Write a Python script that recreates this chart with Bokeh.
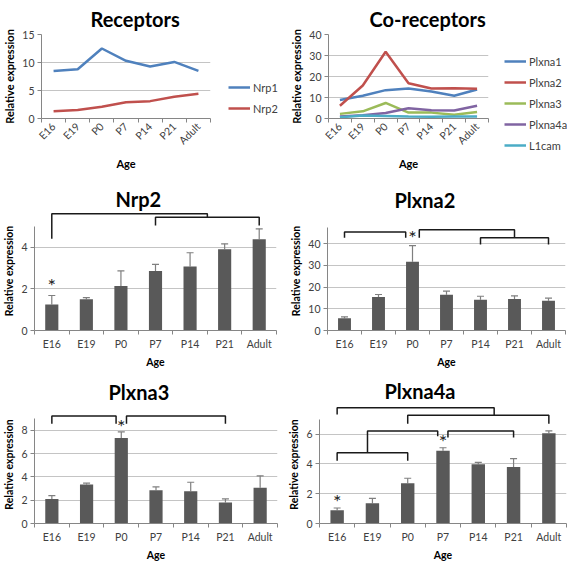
import math
from bokeh.plotting import figure
from bokeh.layouts import column, row
from bokeh.models import (FixedTicker, Legend, LegendItem, Range1d, ColumnDataSource,
                          Whisker, TeeHead)
from bokeh.embed import file_html
from bokeh.resources import INLINE
from bokeh.core.properties import value

FONT = "Lato"

# ---------------- data ----------------
ages = ["E16", "E19", "P0", "P7", "P14", "P21", "Adult"]

# line charts
receptor_names = ["Nrp1", "Nrp2"]
nrp1_line = [8.5, 8.8, 12.5, 10.3, 9.3, 10.1, 8.5]
nrp2_line = [1.3, 1.5, 2.1, 2.9, 3.1, 3.9, 4.4]

coreceptor_names = ["Plxna1", "Plxna2", "Plxna3", "Plxna4a", "L1cam"]
plxna1_line = [8.8, 10.8, 13.5, 14.3, 12.9, 10.8, 13.8]
plxna2_line = [6.1, 15.7, 31.8, 16.8, 14.3, 14.4, 14.2]
plxna3_line = [2.2, 3.4, 7.4, 2.8, 2.8, 1.8, 3.1]
plxna4a_line = [1.0, 1.5, 2.6, 4.9, 3.9, 3.8, 6.1]
l1cam_line = [0.6, 1.4, 1.2, 0.9, 0.8, 1.0, 1.0]

# bar charts (mean and upper error)
nrp2_mean = [1.25, 1.50, 2.14, 2.86, 3.07, 3.90, 4.38]
nrp2_err = [0.43, 0.08, 0.72, 0.31, 0.66, 0.26, 0.50]
plxna2_mean = [5.7, 15.4, 31.7, 16.5, 14.2, 14.5, 13.7]
plxna2_err = [0.6, 1.2, 7.5, 1.7, 1.6, 1.5, 1.2]
plxna3_mean = [2.11, 3.34, 7.34, 2.86, 2.77, 1.80, 3.06]
plxna3_err = [0.29, 0.12, 0.52, 0.28, 0.77, 0.31, 1.03]
plxna4a_mean = [0.89, 1.36, 2.71, 4.89, 3.98, 3.80, 6.07]
plxna4a_err = [0.15, 0.33, 0.33, 0.20, 0.13, 0.56, 0.15]

# significance brackets: (category positions, values)
nrp2_brackets = [
    ([0, 0, 4.5, 4.5], [4.4, 5.6, 5.6, 5.44]),
    ([3, 3, 6, 6], [5.04, 5.44, 5.44, 5.04]),
]
plxna2_brackets = [
    ([0, 0, 1.8, 1.8], [42.8, 45.5, 45.5, 42.8]),
    ([2.2, 2.2, 5, 5], [42.8, 46.5, 46.5, 42.8]),
    ([4, 4, 6, 6], [39.7, 42.8, 42.8, 39.7]),
]
plxna3_brackets = [
    ([0, 0, 1.85, 1.85], [8.57, 9.22, 9.22, 8.57]),
    ([2.15, 2.15, 5, 5], [8.57, 9.22, 9.22, 8.57]),
]
plxna4a_brackets = [
    ([0, 0, 4.45, 4.45], [7.33, 7.78, 7.78, 7.27]),
    ([2, 2, 6, 6], [6.71, 7.27, 7.27, 6.71]),
    ([0.86, 0.86, 2.85, 2.85], [4.75, 6.22, 6.22, 5.87]),
    ([0, 0, 2, 2], [4.22, 4.75, 4.75, 4.22]),
    ([3.14, 3.14, 5, 5], [5.78, 6.22, 6.22, 5.78]),
]

# asterisks: (category position, value)
nrp2_stars = ([0], [2.16])
plxna2_stars = ([2], [43.1])
plxna3_stars = ([2], [8.34])
plxna4a_stars = ([0, 3], [1.53, 5.55])

# ---------------- styling helpers ----------------
AXIS_COL = "#868686"
GRID_COL = "#c4c4c4"
TEXT_COL = "#404040"
LINE_COLORS = ["#4F81BD", "#C0504D", "#9BBB59", "#8064A2", "#4BACC6"]
xpos = list(range(len(ages)))
minor = [i - 0.5 for i in range(len(ages) + 1)]


def base_fig(title, w, h, bl, br, bt, bb, yend, yticks, toff, tstand, lab_size):
    p = figure(width=w, height=h, x_range=Range1d(-0.5, 6.5), y_range=Range1d(0, yend),
               output_backend="svg", toolbar_location=None,
               min_border_left=bl, min_border_right=br, min_border_top=bt,
               min_border_bottom=bb, outline_line_color=None)
    p.title.text = title
    p.title.align = "left"
    p.title.text_font = FONT
    p.title.text_font_style = "bold"
    p.title.text_font_size = "20px"
    p.title.text_color = "black"
    p.title.standoff = tstand
    p.title.offset = toff
    p.xaxis.ticker = FixedTicker(ticks=xpos, minor_ticks=minor)
    p.xaxis.major_label_overrides = {i: a for i, a in enumerate(ages)}
    p.xaxis.major_tick_out = 0
    p.xaxis.major_tick_in = 0
    p.xaxis.minor_tick_out = 4
    p.xaxis.minor_tick_in = 0
    p.yaxis.ticker = FixedTicker(ticks=yticks, minor_ticks=[])
    p.yaxis.major_tick_out = 4
    p.yaxis.major_tick_in = 0
    p.yaxis.minor_tick_out = 0
    p.yaxis.minor_tick_in = 0
    for ax in (p.xaxis, p.yaxis):
        ax.axis_line_color = AXIS_COL
        ax.major_tick_line_color = AXIS_COL
        ax.minor_tick_line_color = AXIS_COL
        ax.major_label_text_font = FONT
        ax.major_label_text_font_size = "10.5px"
        ax.major_label_text_color = TEXT_COL
        ax.major_label_standoff = 3
        ax.axis_label_text_font = FONT
        ax.axis_label_text_font_style = "bold"
        ax.axis_label_text_font_size = lab_size
        ax.axis_label_text_color = "black"
        ax.axis_label_standoff = 3
    p.xaxis.axis_label = "Age"
    p.yaxis.axis_label = "Relative expression"
    p.xgrid.visible = False
    p.ygrid.grid_line_color = GRID_COL
    return p


def line_chart(title, series, colors, w, h, bl, br, bt, bb, yend, yticks, toff, tstand):
    p = base_fig(title, w, h, bl, br, bt, bb, yend, yticks, toff, tstand, "11px")
    p.xaxis.major_label_orientation = math.pi / 4
    p.xaxis.major_label_standoff = 2
    for s, c in zip(series, colors):
        p.line(xpos, s, line_color=c, line_width=2.5)
    return p


def legend_fig(series, names, colors, w, h, loc):
    # separate strip that holds the legend beside the chart; the series are drawn
    # outside of its (empty) view so that only the legend itself shows
    q = figure(width=w, height=h, x_range=Range1d(100, 101), y_range=Range1d(100, 101),
               output_backend="svg", toolbar_location=None, min_border=0,
               x_axis_location=None, y_axis_location=None, outline_line_color=None)
    q.grid.visible = False
    items = []
    for s, n, c in zip(series, names, colors):
        r = q.line(xpos, s, line_color=c, line_width=2.5)
        items.append(LegendItem(label=n, renderers=[r]))
    leg = Legend(items=items, location=loc, orientation="vertical")
    leg.label_text_font = FONT
    leg.label_text_font_size = "11px"
    leg.label_text_color = TEXT_COL
    leg.glyph_width = 22
    leg.glyph_height = 14
    leg.label_height = 14
    leg.label_standoff = 3
    leg.spacing = 7
    leg.padding = 0
    leg.margin = 0
    leg.border_line_color = None
    leg.background_fill_alpha = 0
    q.add_layout(leg, "center")
    return q


def bar_chart(title, mean, err, brackets, stars, w, h, bl, br, bt, bb, yend, yticks, ybound,
              toff, tstand):
    p = base_fig(title, w, h, bl, br, bt, bb, yend, yticks, toff, tstand, "10.5px")
    p.yaxis.bounds = (0, ybound)
    src = ColumnDataSource(dict(x=xpos, top=mean, upper=[m + e for m, e in zip(mean, err)]))
    p.vbar(x="x", top="top", width=0.38, source=src, fill_color="#595959", line_color=None)
    p.add_layout(Whisker(base="x", upper="upper", lower="top", source=src, dimension="height",
                         line_color="#7f7f7f", line_width=1.2, lower_head=None,
                         upper_head=TeeHead(size=7, line_color="#7f7f7f", line_width=1.2)))
    p.multi_line(xs=[b[0] for b in brackets], ys=[b[1] for b in brackets],
                 line_color="#1a1a1a", line_width=1.5)
    p.text(x=stars[0], y=stars[1], text=["*"] * len(stars[0]), text_align="center",
           text_baseline="middle", text_font=value(FONT), text_font_size="20px",
           text_color="#222222")
    return p


rec_series = [nrp1_line, nrp2_line]
co_series = [plxna1_line, plxna2_line, plxna3_line, plxna4a_line, l1cam_line]

p1 = line_chart("Receptors", rec_series, LINE_COLORS[:2],
                218, 172, 36, 8, 34, 54, 15, [0, 5, 10, 15], 49, 7)
leg1 = legend_fig(rec_series, receptor_names, LINE_COLORS[:2], 64, 172, (10, 57))
p2 = line_chart("Co-receptors", co_series, LINE_COLORS,
                214, 172, 46, 8, 34, 54, 40, [0, 10, 20, 30, 40], 41, 7)
leg2 = legend_fig(co_series, coreceptor_names, LINE_COLORS, 71, 172, (8, 20))

p3 = bar_chart("Nrp2", nrp2_mean, nrp2_err, nrp2_brackets, nrp2_stars,
               282, 198, 33, 6, 39, 40, 5.71, [0, 2, 4], 5, 81, 1)
p4 = bar_chart("Plxna2", plxna2_mean, plxna2_err, plxna2_brackets, plxna2_stars,
               285, 198, 45, 2, 39, 40, 54.9, [0, 10, 20, 30, 40], 47.5, 67, -1)
p5 = bar_chart("Plxna3", plxna3_mean, plxna3_err, plxna3_brackets, plxna3_stars,
               282, 193, 33, 5, 35, 39, 10.13, [0, 2, 4, 6, 8], 9, 74, 3)
p6 = bar_chart("Plxna4a", plxna4a_mean, plxna4a_err, plxna4a_brackets, plxna4a_stars,
               285, 193, 37, 1, 35, 39, 7.93, [0, 2, 4, 6], 7, 65, 5)

layout = column(row(p1, column(leg1), p2, column(leg2)), row(p3, p4), row(p5, p6))

open("out.html", "w").write(file_html(layout, INLINE))
